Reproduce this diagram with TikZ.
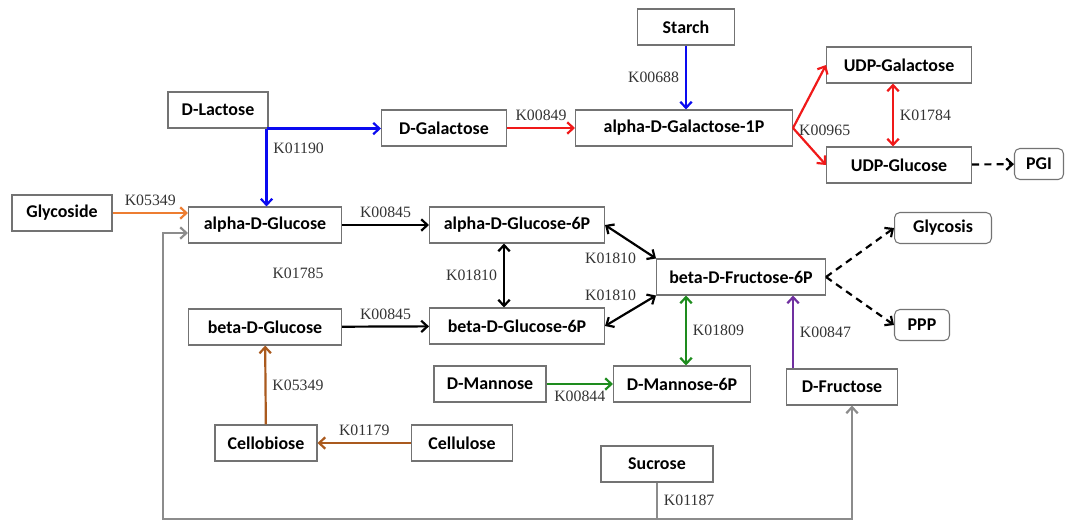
\documentclass[tikz,border=0pt]{standalone}
\usepackage{fontspec}
\setmainfont{Liberation Serif}
\newfontfamily\boxfont{Carlito}
\usetikzlibrary{arrows.meta}

\definecolor{kblue}{RGB}{10,10,240}
\definecolor{kred}{RGB}{240,25,25}
\definecolor{korange}{RGB}{237,125,49}
\definecolor{kgray}{RGB}{140,140,140}
\definecolor{kgreen}{RGB}{30,140,30}
\definecolor{kpurple}{RGB}{112,48,160}
\definecolor{kbrown}{RGB}{170,90,30}

\begin{document}
\begin{tikzpicture}[x=0.02cm,y=-0.02cm,>={Straight Barb[length=3.5pt,width=6.5pt]},
    box/.style={draw=black!55,line width=0.6pt,fill=white,minimum height=0.72cm,inner xsep=2pt,
      font=\boxfont\bfseries\fontsize{10.2}{12}\selectfont},
    endbox/.style={box,rounded corners=3pt,minimum height=0.62cm},
    klabel/.style={font=\fontsize{9}{11}\selectfont,text=black!80},
    flow/.style={line width=1.25pt,->},
    dashflow/.style={flow,dash pattern=on 4pt off 3pt}]
    \useasboundingbox (0,0) rectangle (1070,521);

    \node[box,minimum width=1.94cm] (starch) at (686,27) {Starch};
    \node[box,minimum width=2.0cm] (lac) at (218,110) {D-Lactose};
    \node[box,minimum width=2.5cm] (gal) at (444,128) {D-Galactose};
    \node[box,minimum width=4.34cm] (ag1p) at (684,128) {alpha-D-Galactose-1P};
    \node[box,minimum width=2.9cm] (udpgal) at (899,65) {UDP-Galactose};
    \node[box,minimum width=2.9cm] (udpglc) at (899,165) {UDP-Glucose};
    \node[endbox,minimum width=0.98cm] (pgi) at (1039,164) {PGI};
    \node[box,minimum width=2.0cm] (gly) at (62,213) {Glycoside};
    \node[box,minimum width=3.06cm] (aglc) at (265,225) {alpha-D-Glucose};
    \node[box,minimum width=3.5cm] (ag6p) at (517,225) {alpha-D-Glucose-6P};
    \node[box,minimum width=3.38cm] (bf6p) at (741,277) {beta-D-Fructose-6P};
    \node[endbox,minimum width=1.94cm] (glyc) at (943,228) {Glycosis};
    \node[endbox,minimum width=1.1cm] (ppp) at (922,325) {PPP};
    \node[box,minimum width=3.06cm] (bglc) at (265,327) {beta-D-Glucose};
    \node[box,minimum width=3.5cm] (bg6p) at (517,326) {beta-D-Glucose-6P};
    \node[box,minimum width=2.24cm] (man) at (490,384) {D-Mannose};
    \node[box,minimum width=2.74cm] (m6p) at (682,384) {D-Mannose-6P};
    \node[box,minimum width=2.22cm] (fru) at (842,387) {D-Fructose};
    \node[box,minimum width=2.04cm] (cello) at (266,443) {Cellobiose};
    \node[box,minimum width=2.02cm] (cellu) at (462,443) {Cellulose};
    \node[box,minimum width=2.24cm] (suc) at (657,464) {Sucrose};

    \coordinate (lj) at ([xshift=-0.04cm]lac.south east);
    \coordinate (bl) at (163,519);
    \coordinate (br) at (852,519);

    \draw[flow,kblue] (starch.south) -- node[klabel,left] {K00688} (starch.south |- ag1p.north);
    \draw[flow,kblue] (lj) -- (lj -| gal.west);
    \draw[flow,kblue] (lj) -- node[klabel,right,pos=0.25] {K01190} (lj |- aglc.north);

    \draw[flow,kred] (gal) -- node[klabel,above] {K00849} (ag1p);
    \draw[flow,kred] (ag1p.east) -- (udpgal.west);
    \draw[flow,kred] (ag1p.east) -- (udpglc.west);
    \node[klabel,right] (k965) at ([yshift=-0.04cm]ag1p.east) {K00965};
    \draw[flow,kred,<->] ([xshift=-0.12cm]udpgal.south) -- node[klabel,right] {K01784} ([xshift=-0.12cm]udpglc.north);
    \draw[dashflow] (udpglc) -- (pgi);

    \draw[flow,korange] (gly) -- node[klabel,above] {K05349} (gly -| aglc.west);
    \draw[flow,kgray,<->] ([yshift=-0.16cm]aglc.west) -| (bl) -- (br) -- (br |- fru.south);
    \draw[line width=1.25pt,kgray] (suc) -- node[klabel,right] {K01187} (suc |- bl);

    \draw[flow] (aglc) -- node[klabel,above] {K00845} (ag6p);
    \node[klabel] (k1785) at (298,273) {K01785};
    \draw[flow,<->] ([xshift=-0.26cm]ag6p.south) -- node[klabel,left] {K01810} ([xshift=-0.26cm]bg6p.north);
    \draw[flow,<->] (ag6p.east) -- (bf6p.north west) node[klabel,left=0.26cm] {K01810};
    \draw[flow,<->] (bg6p.east) -- (bf6p.south west) node[klabel,left=0.26cm] {K01810};
    \draw[flow] (bglc) -- node[klabel,above] {K00845} (bg6p);

    \draw[flow,kgreen,<->] ([xshift=0.08cm]m6p.north |- bf6p.south) -- node[klabel,right] {K01809} ([xshift=0.08cm]m6p.north);
    \draw[flow,kgreen] (man) -- node[klabel,below] {K00844} (m6p);
    \draw[flow,kpurple] ([xshift=-0.98cm]fru.north) -- node[klabel,right] {K00847} ([xshift=-0.98cm]fru.north |- bf6p.south);
    \draw[dashflow] (bf6p.east) -- (glyc.west);
    \draw[dashflow] (bf6p.east) -- (ppp.west);

    \draw[flow,kbrown] (cellu) -- node[klabel,above] {K01179} (cello);
    \draw[flow,kbrown] (cello) -- node[klabel,right] {K05349} (bglc);
  \end{tikzpicture}
\end{document}
